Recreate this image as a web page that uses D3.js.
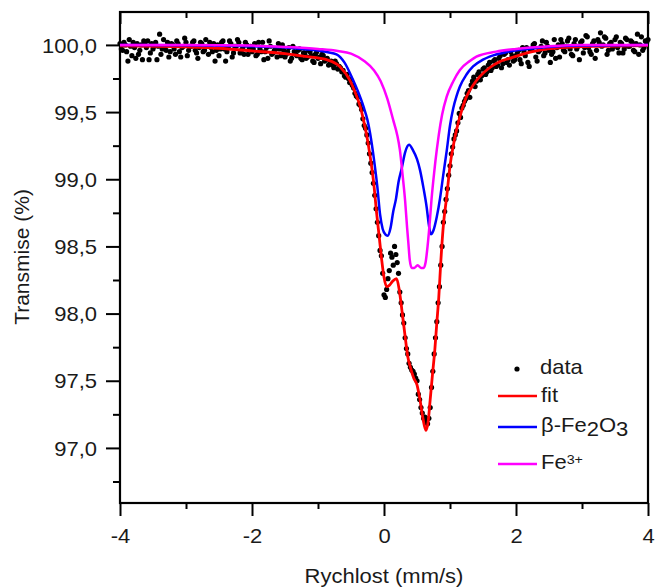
<!DOCTYPE html>
<html><head><meta charset="utf-8">
<script src="https://cdn.jsdelivr.net/npm/d3@7"></script>
<style>
body{margin:0;background:#fff;}
svg{display:block;font-family:"Liberation Sans",Arial,sans-serif;}
</style></head><body>
<svg id="chart" width="655" height="587"></svg>
<script>
// ---- data ----
// even channels
const dataX=[-4.00,-3.96,-3.92,-3.88,-3.84,-3.80,-3.76,-3.72,-3.68,-3.64,
-3.60,-3.56,-3.52,-3.48,-3.44,-3.40,-3.36,-3.32,-3.28,-3.24,
-3.20,-3.16,-3.12,-3.08,-3.04,-3.00,-2.96,-2.92,-2.88,-2.84,
-2.80,-2.76,-2.72,-2.68,-2.64,-2.60,-2.56,-2.52,-2.48,-2.44,
-2.40,-2.36,-2.32,-2.28,-2.24,-2.20,-2.16,-2.12,-2.08,-2.04,
-2.00,-1.96,-1.92,-1.88,-1.84,-1.80,-1.76,-1.72,-1.68,-1.64,
-1.60,-1.56,-1.52,-1.48,-1.44,-1.40,-1.36,-1.32,-1.28,-1.24,
-1.20,-1.16,-1.12,-1.08,-1.04,-1.00,-0.96,-0.92,-0.88,-0.84,
-0.80,-0.76,-0.72,-0.68,-0.64,-0.60,-0.56,-0.52,-0.48,-0.44,
-0.40,-0.36,-0.32,-0.28,-0.24,-0.20,-0.16,-0.12,-0.08,-0.04,
0.00,0.04,0.08,0.12,0.16,0.20,0.24,0.28,0.32,0.36,
0.40,0.44,0.48,0.52,0.56,0.60,0.64,0.68,0.72,0.76,
0.80,0.84,0.88,0.92,0.96,1.00,1.04,1.08,1.12,1.16,
1.20,1.24,1.28,1.32,1.36,1.40,1.44,1.48,1.52,1.56,
1.60,1.64,1.68,1.72,1.76,1.80,1.84,1.88,1.92,1.96,
2.00,2.04,2.08,2.12,2.16,2.20,2.24,2.28,2.32,2.36,
2.40,2.44,2.48,2.52,2.56,2.60,2.64,2.68,2.72,2.76,
2.80,2.84,2.88,2.92,2.96,3.00,3.04,3.08,3.12,3.16,
3.20,3.24,3.28,3.32,3.36,3.40,3.44,3.48,3.52,3.56,
3.60,3.64,3.68,3.72,3.76,3.80,3.84,3.88,3.92,3.96,
4.00];
const dataY=[100.01,99.96,100.00,99.88,99.99,100.02,99.90,99.93,100.00,100.03,
99.98,99.89,100.01,99.99,99.89,100.08,99.97,99.98,100.02,99.95,
100.00,99.93,100.01,99.91,99.99,100.02,99.96,99.99,100.03,99.94,
99.98,100.01,99.96,99.99,100.02,99.95,99.88,100.00,99.97,100.03,
99.88,99.98,100.01,99.94,99.99,100.02,99.96,99.93,100.00,99.97,
99.95,100.01,99.93,99.97,100.02,99.95,99.90,99.99,99.94,99.97,
100.01,99.92,99.96,99.93,99.98,99.90,99.95,99.92,99.97,99.89,
99.94,99.91,99.95,99.88,99.93,99.90,99.86,99.92,99.89,99.85,
99.88,99.83,99.86,99.84,99.80,99.77,99.78,99.72,99.70,99.64,
99.61,99.55,99.45,99.38,99.27,99.12,98.97,98.78,98.58,98.43,
98.14,98.18,98.32,98.42,98.50,98.38,98.16,97.99,97.82,97.70,
97.60,97.57,97.52,97.40,97.30,97.22,97.20,97.22,97.45,97.70,
97.94,98.20,98.50,98.76,98.93,99.10,99.24,99.33,99.42,99.46,
99.55,99.60,99.66,99.70,99.76,99.73,99.80,99.77,99.83,99.80,
99.87,99.83,99.89,99.85,99.92,99.86,99.94,99.89,99.95,99.88,
99.92,99.96,99.86,99.95,99.98,99.84,99.97,100.01,99.88,99.96,
100.03,99.94,99.99,99.87,99.95,99.90,100.00,100.04,99.96,99.99,
100.05,99.93,100.01,99.97,99.89,100.03,99.98,100.06,99.95,100.01,
99.90,100.04,100.09,100.00,100.05,99.96,100.02,99.99,100.06,99.94,
100.01,99.97,100.04,99.99,100.02,99.95,100.08,100.00,99.96,100.03,
100.04];
// odd channels
const dataX2=[-3.98,-3.94,-3.90,-3.86,-3.82,-3.78,-3.74,-3.70,-3.66,-3.62,
-3.58,-3.54,-3.50,-3.46,-3.42,-3.38,-3.34,-3.30,-3.26,-3.22,
-3.18,-3.14,-3.10,-3.06,-3.02,-2.98,-2.94,-2.90,-2.86,-2.82,
-2.78,-2.74,-2.70,-2.66,-2.62,-2.58,-2.54,-2.50,-2.46,-2.42,
-2.38,-2.34,-2.30,-2.26,-2.22,-2.18,-2.14,-2.10,-2.06,-2.02,
-1.98,-1.94,-1.90,-1.86,-1.82,-1.78,-1.74,-1.70,-1.66,-1.62,
-1.58,-1.54,-1.50,-1.46,-1.42,-1.38,-1.34,-1.30,-1.26,-1.22,
-1.18,-1.14,-1.10,-1.06,-1.02,-0.98,-0.94,-0.90,-0.86,-0.82,
-0.78,-0.74,-0.70,-0.66,-0.62,-0.58,-0.54,-0.50,-0.46,-0.42,
-0.38,-0.34,-0.30,-0.26,-0.22,-0.18,-0.14,-0.10,-0.06,-0.02,
0.02,0.06,0.10,0.14,0.18,0.22,0.26,0.30,0.34,0.38,
0.42,0.46,0.50,0.54,0.58,0.62,0.66,0.70,0.74,0.78,
0.82,0.86,0.90,0.94,0.98,1.02,1.06,1.10,1.14,1.18,
1.22,1.26,1.30,1.34,1.38,1.42,1.46,1.50,1.54,1.58,
1.62,1.66,1.70,1.74,1.78,1.82,1.86,1.90,1.94,1.98,
2.02,2.06,2.10,2.14,2.18,2.22,2.26,2.30,2.34,2.38,
2.42,2.46,2.50,2.54,2.58,2.62,2.66,2.70,2.74,2.78,
2.82,2.86,2.90,2.94,2.98,3.02,3.06,3.10,3.14,3.18,
3.22,3.26,3.30,3.34,3.38,3.42,3.46,3.50,3.54,3.58,
3.62,3.66,3.70,3.74,3.78,3.82,3.86,3.90,3.94,3.98];
const dataY2=[99.97,100.02,99.95,100.04,99.92,99.98,100.01,99.96,99.89,100.00,
100.03,99.94,99.97,100.02,99.99,99.93,100.04,99.96,99.91,100.01,
99.97,100.03,99.95,99.98,100.05,99.92,99.99,100.02,99.96,99.90,
100.02,99.95,100.04,99.93,99.98,100.01,99.96,99.92,100.02,99.97,
99.95,100.03,99.91,99.99,100.04,99.94,99.98,100.02,99.93,99.99,
99.97,99.92,100.02,99.95,99.89,99.98,100.03,99.93,99.96,99.91,
99.97,100.00,99.91,99.95,99.88,99.99,99.93,99.96,99.90,99.94,
99.90,99.96,99.92,99.87,99.95,99.91,99.93,99.88,99.90,99.86,
99.85,99.88,99.82,99.83,99.81,99.76,99.75,99.74,99.68,99.62,
99.56,99.52,99.40,99.33,99.19,99.05,98.88,98.68,98.47,98.30,
98.12,98.26,98.45,98.36,98.44,98.30,98.08,97.93,97.74,97.63,
97.58,97.55,97.50,97.36,97.26,97.23,97.18,97.30,97.57,97.82,
98.08,98.36,98.68,98.85,99.03,99.19,99.30,99.36,99.49,99.53,
99.58,99.64,99.61,99.73,99.69,99.78,99.74,99.82,99.78,99.85,
99.81,99.88,99.84,99.90,99.83,99.93,99.87,99.85,99.92,99.89,
99.94,99.89,99.98,99.92,99.87,99.96,100.00,99.91,99.95,99.99,
99.92,100.02,99.96,99.93,100.04,99.98,99.91,100.01,99.95,100.03,
99.97,99.92,100.04,99.99,100.02,99.94,100.07,99.98,99.93,100.03,
99.96,100.02,99.99,100.06,99.93,100.01,99.97,100.04,99.98,100.02,
99.94,100.05,99.99,100.03,99.96,100.01,99.93,100.06,99.98,100.02];

const fitX=[-4,-3,-2.5,-2,-1.5,-1.2,-0.87,-0.67,-0.52,-0.44,-0.36,-0.31,-0.26,-0.21,-0.16,-0.11,-0.07,-0.035,0,0.04,0.08,0.13,0.19,0.23,0.27,0.32,0.36,0.4,0.45,0.5,0.545,0.59,0.635,0.67,0.7,0.735,0.77,0.8,0.83,0.86,0.9,0.95,1.0,1.05,1.1,1.17,1.25,1.35,1.45,1.6,1.75,1.9,2.25,2.75,3.3,4];
const fitY=[99.993,99.985,99.975,99.955,99.935,99.915,99.89,99.84,99.74,99.65,99.54,99.44,99.32,99.17,98.99,98.74,98.56,98.40,98.27,98.20,98.21,98.24,98.26,98.18,98.03,97.83,97.68,97.60,97.52,97.47,97.36,97.22,97.13,97.2,97.36,97.55,97.73,97.93,98.12,98.38,98.66,98.87,99.1,99.25,99.37,99.5,99.615,99.7,99.764,99.83,99.875,99.9,99.95,99.982,99.99,99.995];

const betaX=[-4,-3,-2,-1.5,-1.2,-1,-0.85,-0.72,-0.6,-0.47,-0.4,-0.31,-0.25,-0.21,-0.15,-0.1,-0.06,-0.02,0.02,0.055,0.1,0.14,0.18,0.22,0.268,0.32,0.38,0.44,0.5,0.545,0.6,0.647,0.68,0.71,0.75,0.8,0.85,0.9,0.95,1.0,1.05,1.1,1.15,1.25,1.35,1.5,1.6,1.9,2.5,3,4];
const betaY=[100.0,99.998,99.99,99.98,99.968,99.958,99.945,99.93,99.87,99.74,99.66,99.54,99.44,99.34,99.14,98.94,98.74,98.63,98.59,98.58,98.64,98.76,98.85,98.98,99.08,99.2,99.256,99.215,99.15,99.07,98.93,98.79,98.66,98.59,98.62,98.72,98.86,99.04,99.21,99.4,99.53,99.62,99.69,99.78,99.84,99.89,99.913,99.95,99.985,99.995,100.0];

const fe3X=[-4,-3,-2,-1.5,-1,-0.7,-0.5,-0.3,-0.15,-0.05,0.05,0.14,0.2,0.24,0.28,0.32,0.35,0.37,0.39,0.42,0.46,0.51,0.56,0.6,0.63,0.66,0.69,0.72,0.76,0.8,0.83,0.88,0.95,1.05,1.15,1.3,1.4,1.7,2,2.5,3,4];
const fe3Y=[100.0,100.0,99.995,99.985,99.97,99.955,99.935,99.88,99.81,99.73,99.6,99.44,99.33,99.22,99.04,98.84,98.64,98.52,98.40,98.34,98.34,98.36,98.34,98.34,98.38,98.5,98.66,98.85,99.05,99.22,99.33,99.48,99.615,99.73,99.814,99.88,99.913,99.95,99.97,99.99,100.0,100.0];

const xMajorTicks=[-4,-2,0,2,4];
const xTickLabels=["-4","-2","0","2","4"];
const xMinorTicks=[-3,-1,1,3];
const yMajorTicks=[97.0,97.5,98.0,98.5,99.0,99.5,100.0];
const yTickLabels=["97,0","97,5","98,0","98,5","99,0","99,5","100,0"];
const yMinorTicks=[96.75,97.25,97.75,98.25,98.75,99.25,99.75];
const xTitle="Rychlost (mm/s)";
const yTitle="Transmise (%)";
const seriesColors={fit:"#ff0000",beta:"#0000ff",fe3:"#ff00ff"};

// ---- layout ----
const L=120,R=648,T=12,B=503;
const SX=1.1; // horizontal text stretch
const svg=d3.select("#chart");
const x=d3.scaleLinear().domain([-4,4]).range([L,R]);
const y=d3.scaleLinear().domain([96.59,100.245]).range([B,T]);

function styleAxis(g){
  g.select(".domain").remove();
  g.selectAll(".tick line").attr("stroke","#000").attr("stroke-width",2);
}
// bottom
const gxb=svg.append("g").attr("transform",`translate(0,${B})`)
  .call(d3.axisBottom(x).tickValues(xMajorTicks).tickSize(13).tickSizeOuter(0)
    .tickFormat(d=>xTickLabels[xMajorTicks.indexOf(d)]));
styleAxis(gxb);
gxb.selectAll(".tick text").attr("y",40).attr("dy",null).attr("fill","#1a1a1a")
  .style("font-size","20px").attr("transform",`scale(${SX},1)`);
const gxbm=svg.append("g").attr("transform",`translate(0,${B})`)
  .call(d3.axisBottom(x).tickValues(xMinorTicks).tickSize(6).tickSizeOuter(0).tickFormat(""));
styleAxis(gxbm);
// top (inward)
const gxt=svg.append("g").attr("transform",`translate(0,${T})`)
  .call(d3.axisBottom(x).tickValues(xMajorTicks).tickSize(12).tickSizeOuter(0).tickFormat(""));
styleAxis(gxt);
const gxtm=svg.append("g").attr("transform",`translate(0,${T})`)
  .call(d3.axisBottom(x).tickValues(xMinorTicks).tickSize(6).tickSizeOuter(0).tickFormat(""));
styleAxis(gxtm);
// left
const gyl=svg.append("g").attr("transform",`translate(${L},0)`)
  .call(d3.axisLeft(y).tickValues(yMajorTicks).tickSize(14).tickSizeOuter(0)
    .tickFormat(d=>yTickLabels[yMajorTicks.indexOf(d)]));
styleAxis(gyl);
gyl.selectAll(".tick text").attr("x",-23/SX).attr("dy","0.36em").attr("fill","#1a1a1a")
  .style("font-size","20px").attr("transform",`scale(${SX},1)`);
const gylm=svg.append("g").attr("transform",`translate(${L},0)`)
  .call(d3.axisLeft(y).tickValues(yMinorTicks).tickSize(7).tickSizeOuter(0).tickFormat(""));
styleAxis(gylm);

// frame
svg.append("rect").attr("x",L).attr("y",T).attr("width",R-L).attr("height",B-T)
  .attr("fill","none").attr("stroke","#000").attr("stroke-width",2.2);

// data points
const points=dataX.map((d,i)=>[d,dataY[i]]).concat(dataX2.map((d,i)=>[d,dataY2[i]]));
svg.append("g").selectAll("circle").data(points).join("circle")
  .attr("cx",d=>x(d[0])).attr("cy",d=>y(d[1])).attr("r",2.6).attr("fill","#000");

const line=d3.line().x(d=>x(d[0])).y(d=>y(d[1])).curve(d3.curveMonotoneX);
function drawCurve(xs,ys,color,w){
  svg.append("path").datum(xs.map((d,i)=>[d,ys[i]])).attr("d",line)
    .attr("fill","none").attr("stroke",color).attr("stroke-width",w).attr("stroke-linejoin","round");
}
drawCurve(fitX,fitY,seriesColors.fit,2.8);
drawCurve(betaX,betaY,seriesColors.beta,2.5);
drawCurve(fe3X,fe3Y,seriesColors.fe3,2.5);

// legend
const lg=svg.append("g").style("font-size","20px").attr("fill","#1a1a1a");
lg.append("circle").attr("cx",517).attr("cy",369).attr("r",2.6).attr("fill","#000");
function ltext(tx,ty){return lg.append("text").attr("transform",`translate(${tx},${ty}) scale(${SX},1)`);}
ltext(540,374).text("data");
lg.append("line").attr("x1",498).attr("x2",537).attr("y1",396).attr("y2",396).attr("stroke",seriesColors.fit).attr("stroke-width",2.5);
ltext(541,402).text("fit");
lg.append("line").attr("x1",498).attr("x2",537).attr("y1",427).attr("y2",427).attr("stroke",seriesColors.beta).attr("stroke-width",2.5);
const tb=ltext(541,432);
tb.append("tspan").text("β-Fe");
tb.append("tspan").attr("dy",4).text("2");
tb.append("tspan").attr("dy",-4).text("O");
tb.append("tspan").attr("dy",4).text("3");
lg.append("line").attr("x1",498).attr("x2",537).attr("y1",464).attr("y2",464).attr("stroke",seriesColors.fe3).attr("stroke-width",2.5);
const tf=ltext(541,469);
tf.append("tspan").text("Fe");
tf.append("tspan").attr("dy",-5).style("font-size","13px").text("3+");

// axis titles
svg.append("text").attr("transform",`translate(384,583) scale(${SX},1)`)
  .attr("text-anchor","middle").style("font-size","20px").attr("fill","#1a1a1a").text(xTitle);
svg.append("text").attr("transform","translate(29,257) rotate(-90)")
  .attr("text-anchor","middle").style("font-size","21px").attr("fill","#1a1a1a").text(yTitle);
</script>
</body></html>
